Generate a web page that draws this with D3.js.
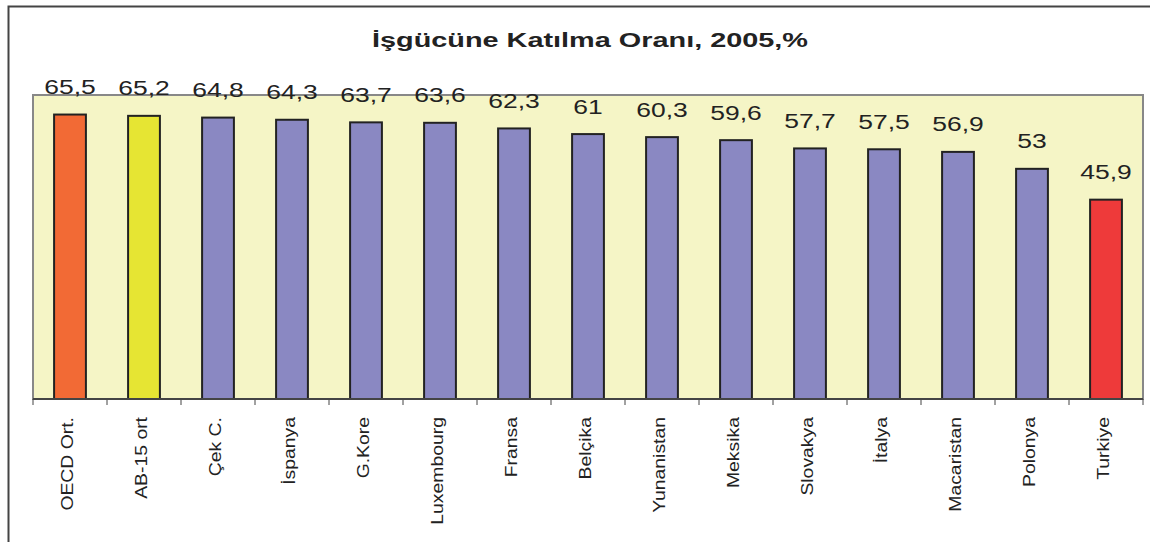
<!DOCTYPE html>
<html><head><meta charset="utf-8">
<script src="https://cdn.jsdelivr.net/npm/d3@7"></script>
<style>body{margin:0;background:#fff}svg{display:block}</style>
</head><body>
<script>
const categories = ["OECD Ort.","AB-15 ort","Çek C.","İspanya","G.Kore","Luxembourg","Fransa","Belçika","Yunanistan","Meksika","Slovakya","İtalya","Macaristan","Polonya","Turkiye"];
const values = [65.5,65.2,64.8,64.3,63.7,63.6,62.3,61,60.3,59.6,57.7,57.5,56.9,53,45.9];
const valueLabels = ["65,5","65,2","64,8","64,3","63,7","63,6","62,3","61","60,3","59,6","57,7","57,5","56,9","53","45,9"];
const barColors = ["#F26A35","#E6E533","#8A88C2","#8A88C2","#8A88C2","#8A88C2","#8A88C2","#8A88C2","#8A88C2","#8A88C2","#8A88C2","#8A88C2","#8A88C2","#8A88C2","#EE3A3A"];
const title = "İşgücüne Katılma Oranı, 2005,%";

const W = 1150, H = 542;
const svg = d3.select("body").append("svg").attr("width", W).attr("height", H);
const font = "Liberation Sans, Arial, sans-serif";

// outer frame
svg.append("rect").attr("x", 8.5).attr("y", 6.5).attr("width", W + 20).attr("height", H + 20)
  .attr("fill", "#fff").attr("stroke", "#444").attr("stroke-width", 2);

const plot = {left: 33, top: 95, right: 1143, bottom: 399};
const x = d3.scaleBand().domain(categories).range([plot.left, plot.right]).paddingInner(0.57).paddingOuter(0.285);
const y = d3.scaleLinear().domain([0, 70]).range([plot.bottom, plot.top]);

svg.append("rect").attr("x", plot.left).attr("y", plot.top)
  .attr("width", plot.right - plot.left).attr("height", plot.bottom - plot.top)
  .attr("fill", "#F5F5C6").attr("stroke", "#888").attr("stroke-width", 2);

svg.append("text").attr("x", 590).attr("y", 47).attr("text-anchor", "middle")
  .attr("font-family", font).attr("font-weight", "bold").attr("font-size", 19.5)
  .attr("textLength", 436).attr("lengthAdjust", "spacingAndGlyphs")
  .attr("fill", "#222").text(title);

svg.selectAll("rect.bar").data(values).join("rect").attr("class", "bar")
  .attr("x", (d, i) => x(categories[i])).attr("width", x.bandwidth())
  .attr("y", d => y(d)).attr("height", d => y(0) - y(d))
  .attr("fill", (d, i) => barColors[i]).attr("stroke", "#222").attr("stroke-width", 2);

svg.selectAll("text.val").data(values).join("text").attr("class", "val")
  .attr("transform", (d, i) => `translate(${x(categories[i]) + x.bandwidth() / 2},${y(d) - 20.5}) scale(1.26,1)`)
  .attr("text-anchor", "middle").attr("font-family", font).attr("font-size", 21).attr("fill", "#222")
  .text((d, i) => valueLabels[i]);

// x axis
const step = x.step();
const axisG = svg.append("g");
axisG.append("line").attr("x1", plot.left).attr("x2", plot.right).attr("y1", plot.bottom).attr("y2", plot.bottom)
  .attr("stroke", "#444").attr("stroke-width", 2);
const tickPos = d3.range(categories.length + 1).map(i => x.range()[0] + i * step);
axisG.selectAll("line.tick").data(tickPos).join("line").attr("class", "tick")
  .attr("x1", d => d).attr("x2", d => d).attr("y1", plot.bottom).attr("y2", plot.bottom + 6)
  .attr("stroke", "#444").attr("stroke-width", 1);

svg.selectAll("text.cat").data(categories).join("text").attr("class", "cat")
  .attr("transform", d => `translate(${x(d) + x.bandwidth() / 2 + 3},417) rotate(-90) scale(1.14,1)`)
  .attr("text-anchor", "end").attr("font-family", font).attr("font-size", 17).attr("fill", "#222")
  .text(d => d);
</script>
</body></html>
